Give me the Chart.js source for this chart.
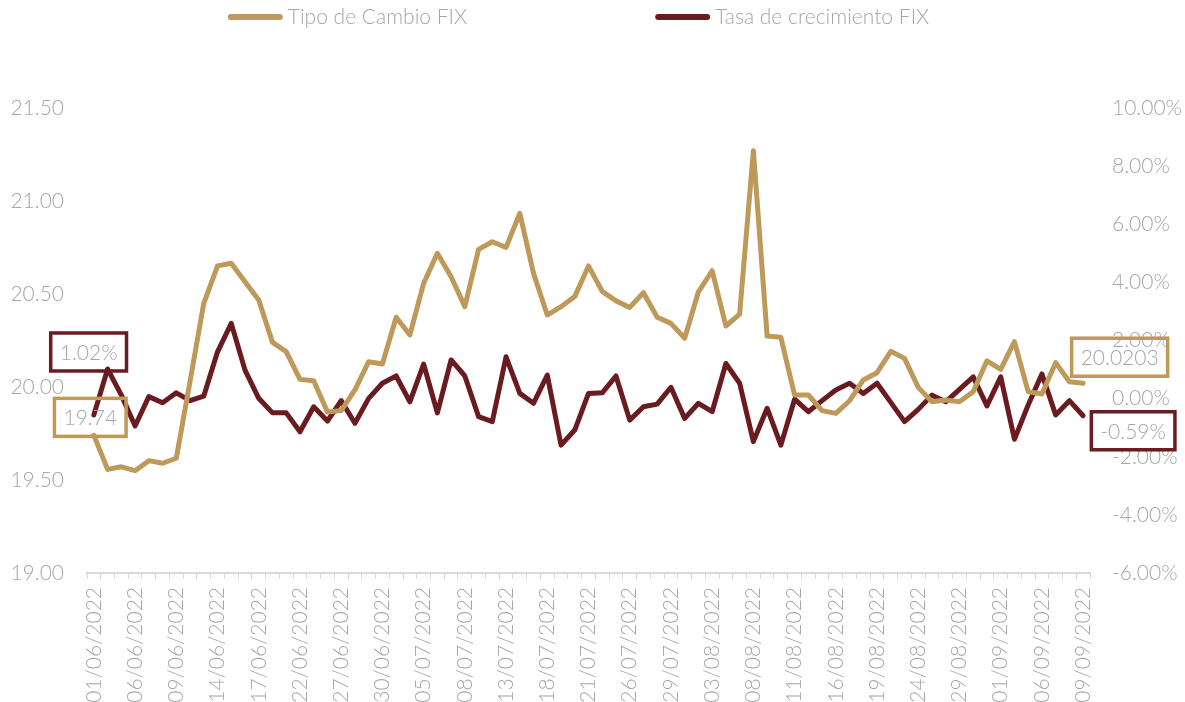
<!DOCTYPE html>
<html><head><meta charset="utf-8">
<script src="https://cdn.jsdelivr.net/npm/chart.js@4"></script>
<style>html,body{margin:0;padding:0;background:#fff}#wrap{width:1185px;height:702px;position:relative}</style>
</head><body><div id="wrap"><canvas id="c" width="1185" height="702"></canvas></div>
<script>
const dates = [
 '01/06/2022','02/06/2022','03/06/2022','06/06/2022','07/06/2022','08/06/2022','09/06/2022','10/06/2022','13/06/2022','14/06/2022','15/06/2022','16/06/2022','17/06/2022','20/06/2022','21/06/2022','22/06/2022','23/06/2022','24/06/2022','27/06/2022','28/06/2022','29/06/2022','30/06/2022',
 '01/07/2022','04/07/2022','05/07/2022','06/07/2022','07/07/2022','08/07/2022','11/07/2022','12/07/2022','13/07/2022','14/07/2022','15/07/2022','18/07/2022','19/07/2022','20/07/2022','21/07/2022','22/07/2022','25/07/2022','26/07/2022','27/07/2022','28/07/2022','29/07/2022',
 '01/08/2022','02/08/2022','03/08/2022','04/08/2022','05/08/2022','08/08/2022','09/08/2022','10/08/2022','11/08/2022','12/08/2022','15/08/2022','16/08/2022','17/08/2022','18/08/2022','19/08/2022','22/08/2022','23/08/2022','24/08/2022','25/08/2022','26/08/2022','29/08/2022','30/08/2022','31/08/2022',
 '01/09/2022','02/09/2022','05/09/2022','06/09/2022','07/09/2022','08/09/2022','09/09/2022'
];
const tipoCambio = [
 19.74,19.557,19.571,19.550,19.604,19.590,19.617,20.03,20.450,20.651,20.665,20.566,20.468,20.240,20.190,20.041,20.034,19.865,19.873,19.984,20.136,20.124,
 20.375,20.280,20.557,20.719,20.593,20.432,20.740,20.781,20.751,20.934,20.611,20.387,20.432,20.486,20.651,20.514,20.463,20.428,20.507,20.375,20.342,
 20.262,20.512,20.625,20.328,20.392,21.270,20.274,20.267,19.957,19.957,19.873,19.858,19.926,20.038,20.077,20.192,20.154,19.998,19.921,19.930,19.921,19.975,20.141,
 20.095,20.244,19.975,19.962,20.131,20.028,20.0203
];
const tasaCrecimiento = [
 -0.56,1.02,0.12,-0.94,0.07,-0.14,0.20,-0.07,0.09,1.61,2.59,0.98,0.01,-0.49,-0.49,-1.14,-0.28,-0.77,-0.07,-0.85,0.01,0.53,
 0.78,-0.11,1.19,-0.49,1.33,0.78,-0.62,-0.79,1.44,0.18,-0.16,0.81,-1.60,-1.08,0.18,0.20,0.78,-0.74,-0.28,-0.19,0.39,
 -0.68,-0.16,-0.45,1.21,0.53,-1.48,-0.33,-1.60,-0.02,-0.45,-0.07,0.30,0.53,0.18,0.53,-0.13,-0.79,-0.37,0.12,-0.11,0.32,0.75,-0.25,
 0.75,-1.40,-0.22,0.85,-0.56,-0.07,-0.59
];
const seriesNames = ['Tipo de Cambio FIX','Tasa de crecimiento FIX'];
const leftTicks = [19.00,19.50,20.00,20.50,21.00,21.50];
const rightTicks = [-6,-4,-2,0,2,4,6,8,10];

const GOLD = '#BF995A';
const MAROON = '#6A1B1F';
const TEXT = '#A6A6A6';
const FONT = 'Lato';
const FSIZE = 21;

const legendPlugin = {
  id: 'customLegend',
  afterDraw(chart) {
    const ctx = chart.ctx;
    ctx.save();
    ctx.font = `300 ${FSIZE}px ${FONT}`;
    const items = chart.data.datasets.map(d => ({text: d.label, color: d.borderColor}));
    const sample = 55, gapT = 5, gapItem = 188;
    const widths = items.map(it => ctx.measureText(it.text).width);
    let total = 0;
    widths.forEach((w, i) => { total += sample + gapT + w + (i < widths.length - 1 ? gapItem : 0); });
    let x = chart.width / 2 - 14 - total / 2;
    const y = 17;
    items.forEach((it, i) => {
      ctx.strokeStyle = it.color;
      ctx.lineWidth = 6;
      ctx.lineCap = 'round';
      ctx.beginPath(); ctx.moveTo(x + 3, y); ctx.lineTo(x + sample - 3, y); ctx.stroke();
      ctx.fillStyle = TEXT;
      ctx.textBaseline = 'middle';
      ctx.textAlign = 'left';
      ctx.fillText(it.text, x + sample + gapT, y);
      x += sample + gapT + widths[i] + gapItem;
    });
    ctx.restore();
  }
};

const boxLabels = [
  {ds: 0, idx: 0, text: v => v.toFixed(2), dx: -3.6, dy: -18},
  {ds: 1, idx: 1, text: v => v.toFixed(2) + '%', dx: -19, dy: -17},
  {ds: 0, idx: tipoCambio.length - 1, text: v => String(v), dx: 36.5, dy: -26},
  {ds: 1, idx: tasaCrecimiento.length - 1, text: v => v.toFixed(2) + '%', dx: 50, dy: 15}
];

const boxPlugin = {
  id: 'boxLabels',
  afterDraw(chart) {
    const ctx = chart.ctx;
    ctx.save();
    ctx.font = `300 ${FSIZE}px ${FONT}`;
    boxLabels.forEach(b => {
      const ds = chart.data.datasets[b.ds];
      const meta = chart.getDatasetMeta(b.ds);
      const pt = meta.data[b.idx];
      const txt = b.text(ds.data[b.idx]);
      const w = ctx.measureText(txt).width + 18;
      const h = 38;
      const cx = pt.x + b.dx, cy = pt.y + b.dy;
      ctx.strokeStyle = ds.borderColor;
      ctx.lineWidth = 3.5;
      ctx.strokeRect(cx - w / 2, cy - h / 2, w, h);
      ctx.fillStyle = TEXT;
      ctx.textAlign = 'center';
      ctx.textBaseline = 'middle';
      ctx.fillText(txt, cx, cy + 1);
    });
    ctx.restore();
  }
};

new Chart(document.getElementById('c'), {
  type: 'line',
  data: {
    labels: dates,
    datasets: [
      {label: seriesNames[0], data: tipoCambio, yAxisID: 'y', borderColor: GOLD, backgroundColor: GOLD,
       borderWidth: 5, pointRadius: 0, tension: 0, borderJoinStyle: 'round', borderCapStyle: 'round'},
      {label: seriesNames[1], data: tasaCrecimiento, yAxisID: 'y2', borderColor: MAROON, backgroundColor: MAROON,
       borderWidth: 5, pointRadius: 0, tension: 0, borderJoinStyle: 'round', borderCapStyle: 'round'}
    ]
  },
  options: {
    responsive: false,
    animation: false,
    layout: {padding: {top: 108, left: 0, right: 0, bottom: 0}},
    plugins: {legend: {display: false}, tooltip: {enabled: false}},
    scales: {
      x: {
        offset: true,
        border: {display: true, color: '#D9D9D9', width: 2},
        grid: {display: true, drawOnChartArea: false, drawTicks: true, tickLength: 6, color: '#D9D9D9', offset: true},
        ticks: {
          autoSkip: false, minRotation: 90, maxRotation: 90, padding: 8,
          color: TEXT, font: {family: FONT, size: FSIZE, weight: '300'},
          callback: function(v, i) { return i % 3 === 0 ? dates[i] : ''; }
        },
        afterFit: s => { s.height = 129; }
      },
      y: {
        position: 'left', min: 19, max: 21.5,
        border: {display: false}, grid: {display: false, drawTicks: false},
        afterBuildTicks: s => { s.ticks = leftTicks.map(v => ({value: v})); },
        ticks: {padding: 23, color: TEXT, font: {family: FONT, size: FSIZE, weight: '300'},
          callback: v => Number(v).toFixed(2)},
        afterFit: s => { s.width = 87; }
      },
      y2: {
        position: 'right', min: -6, max: 10,
        border: {display: false}, grid: {display: false, drawTicks: false},
        afterBuildTicks: s => { s.ticks = rightTicks.map(v => ({value: v})); },
        ticks: {padding: 22, color: TEXT, font: {family: FONT, size: FSIZE, weight: '300'},
          callback: v => Number(v).toFixed(2) + '%'},
        afterFit: s => { s.width = 95; }
      }
    }
  },
  plugins: [legendPlugin, boxPlugin]
});
</script>
</body></html>
